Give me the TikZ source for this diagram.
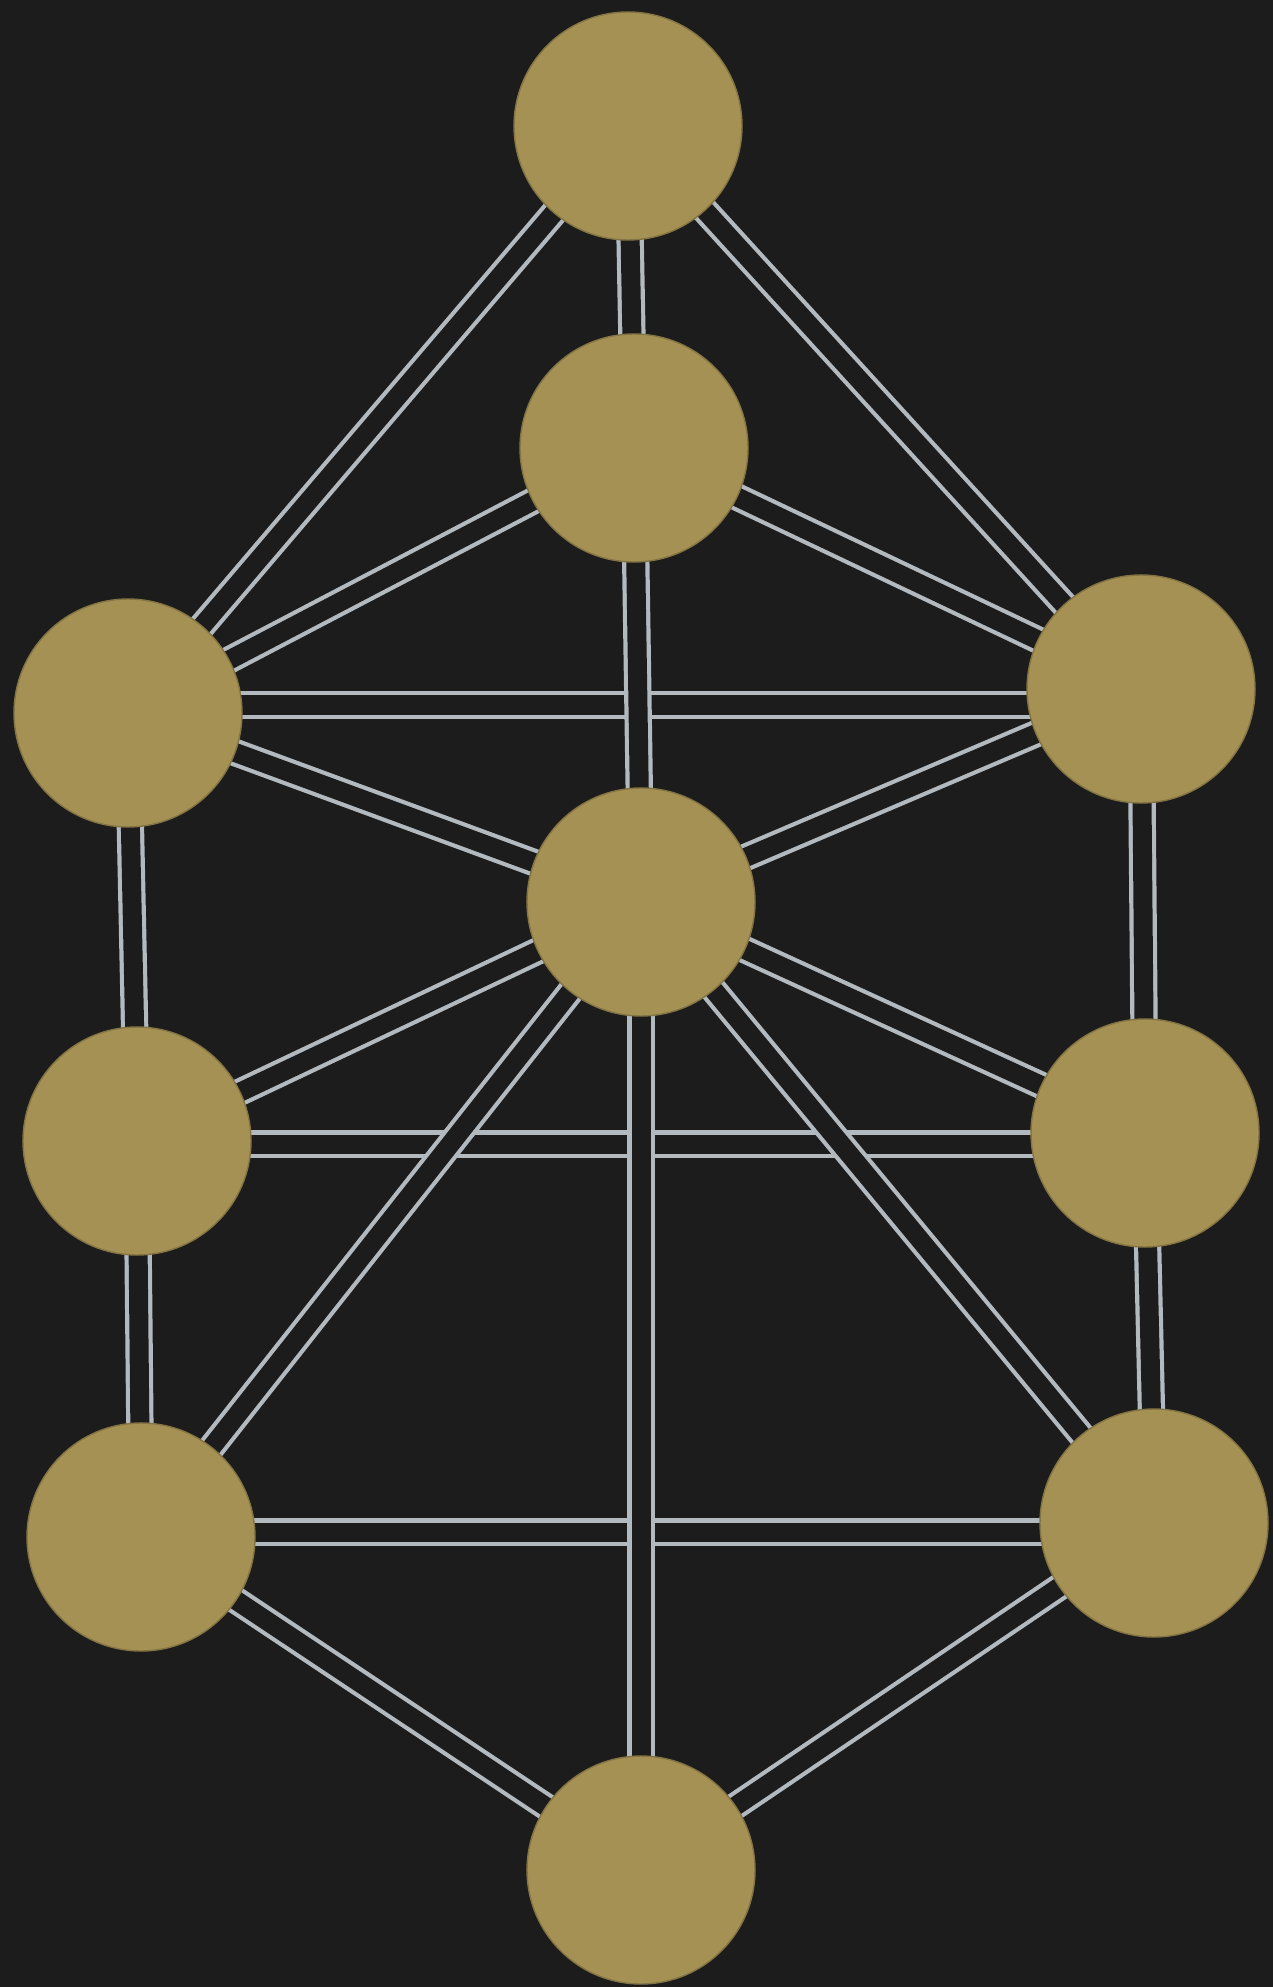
\documentclass[tikz,border=0pt]{standalone}
\usepackage{tikz}
\usepackage{xcolor}
\usetikzlibrary{positioning}
\definecolor{boardBlack}{RGB}{27,28,27}
\definecolor{leafGold}{RGB}{165,145,84}
\definecolor{chalkGrey}{RGB}{178,186,192}
\pgfdeclarelayer{back}
\pgfsetlayers{back,main}
\tikzset{
    orb/.style={
        circle,
        fill=leafGold,
        draw=leafGold!80!black,
        line width=0.4pt,
        minimum size=2.28cm,
        inner sep=0pt
    },
    channel/.style={
        draw=chalkGrey,
        line width=0.042cm,
        double=boardBlack,
        double distance=0.19cm
    }
}

\begin{document}
\begin{tikzpicture}
    \useasboundingbox (0,0) rectangle (12.73,-19.87);
    \node[orb] (top) at (6.28,-1.26) {};
    \node[orb] (inner) at (6.34,-4.48) {};
    \node[orb] (leftHigh) at (1.28,-7.13) {};
    \node[orb] (rightHigh) at (11.41,-6.89) {};
    \node[orb] (heart) at (6.41,-9.02) {};
    \node[orb] (leftMid) at (1.37,-11.41) {};
    \node[orb] (rightMid) at (11.45,-11.33) {};
    \node[orb] (leftLow) at (1.41,-15.37) {};
    \node[orb] (rightLow) at (11.54,-15.23) {};
    \node[orb] (base) at (6.41,-18.70) {};
    % levels of the three bars
    \coordinate (railHigh) at (0,-7.05);
    \coordinate (railMid) at (0,-11.44);
    \coordinate (railLow) at (0,-15.32);
    \begin{pgfonlayer}{back}
        \fill[boardBlack] (0,0) rectangle (12.73,-19.87);
        % crossing bars
        \draw[channel] (leftHigh.center |- railHigh) -- (rightHigh.center |- railHigh);
        \draw[channel] (leftMid.center |- railMid) -- (rightMid.center |- railMid);
        \draw[channel] (leftLow.center |- railLow) -- (rightLow.center |- railLow);
        % slanted channels
        \draw[channel] (top.center) -- (leftHigh.center);
        \draw[channel] (top.center) -- (rightHigh.center);
        \draw[channel] (inner.center) -- (leftHigh.center);
        \draw[channel] (inner.center) -- (rightHigh.center);
        \draw[channel] (leftHigh.center) -- (heart.center);
        \draw[channel] (rightHigh.center) -- (heart.center);
        \draw[channel] (heart.center) -- (leftMid.center);
        \draw[channel] (heart.center) -- (rightMid.center);
        \draw[channel] (heart.center) -- (leftLow.center);
        \draw[channel] (heart.center) -- (rightLow.center);
        \draw[channel] (leftLow.center) -- (base.center);
        \draw[channel] (rightLow.center) -- (base.center);
        % upright pillars
        \draw[channel] (top.center) -- (inner.center);
        \draw[channel] (inner.center) -- (heart.center);
        \draw[channel] (heart.center) -- (base.center);
        \draw[channel] (leftHigh.center) -- (leftMid.center);
        \draw[channel] (leftMid.center) -- (leftLow.center);
        \draw[channel] (rightHigh.center) -- (rightMid.center);
        \draw[channel] (rightMid.center) -- (rightLow.center);
    \end{pgfonlayer}
\end{tikzpicture}
\end{document}
